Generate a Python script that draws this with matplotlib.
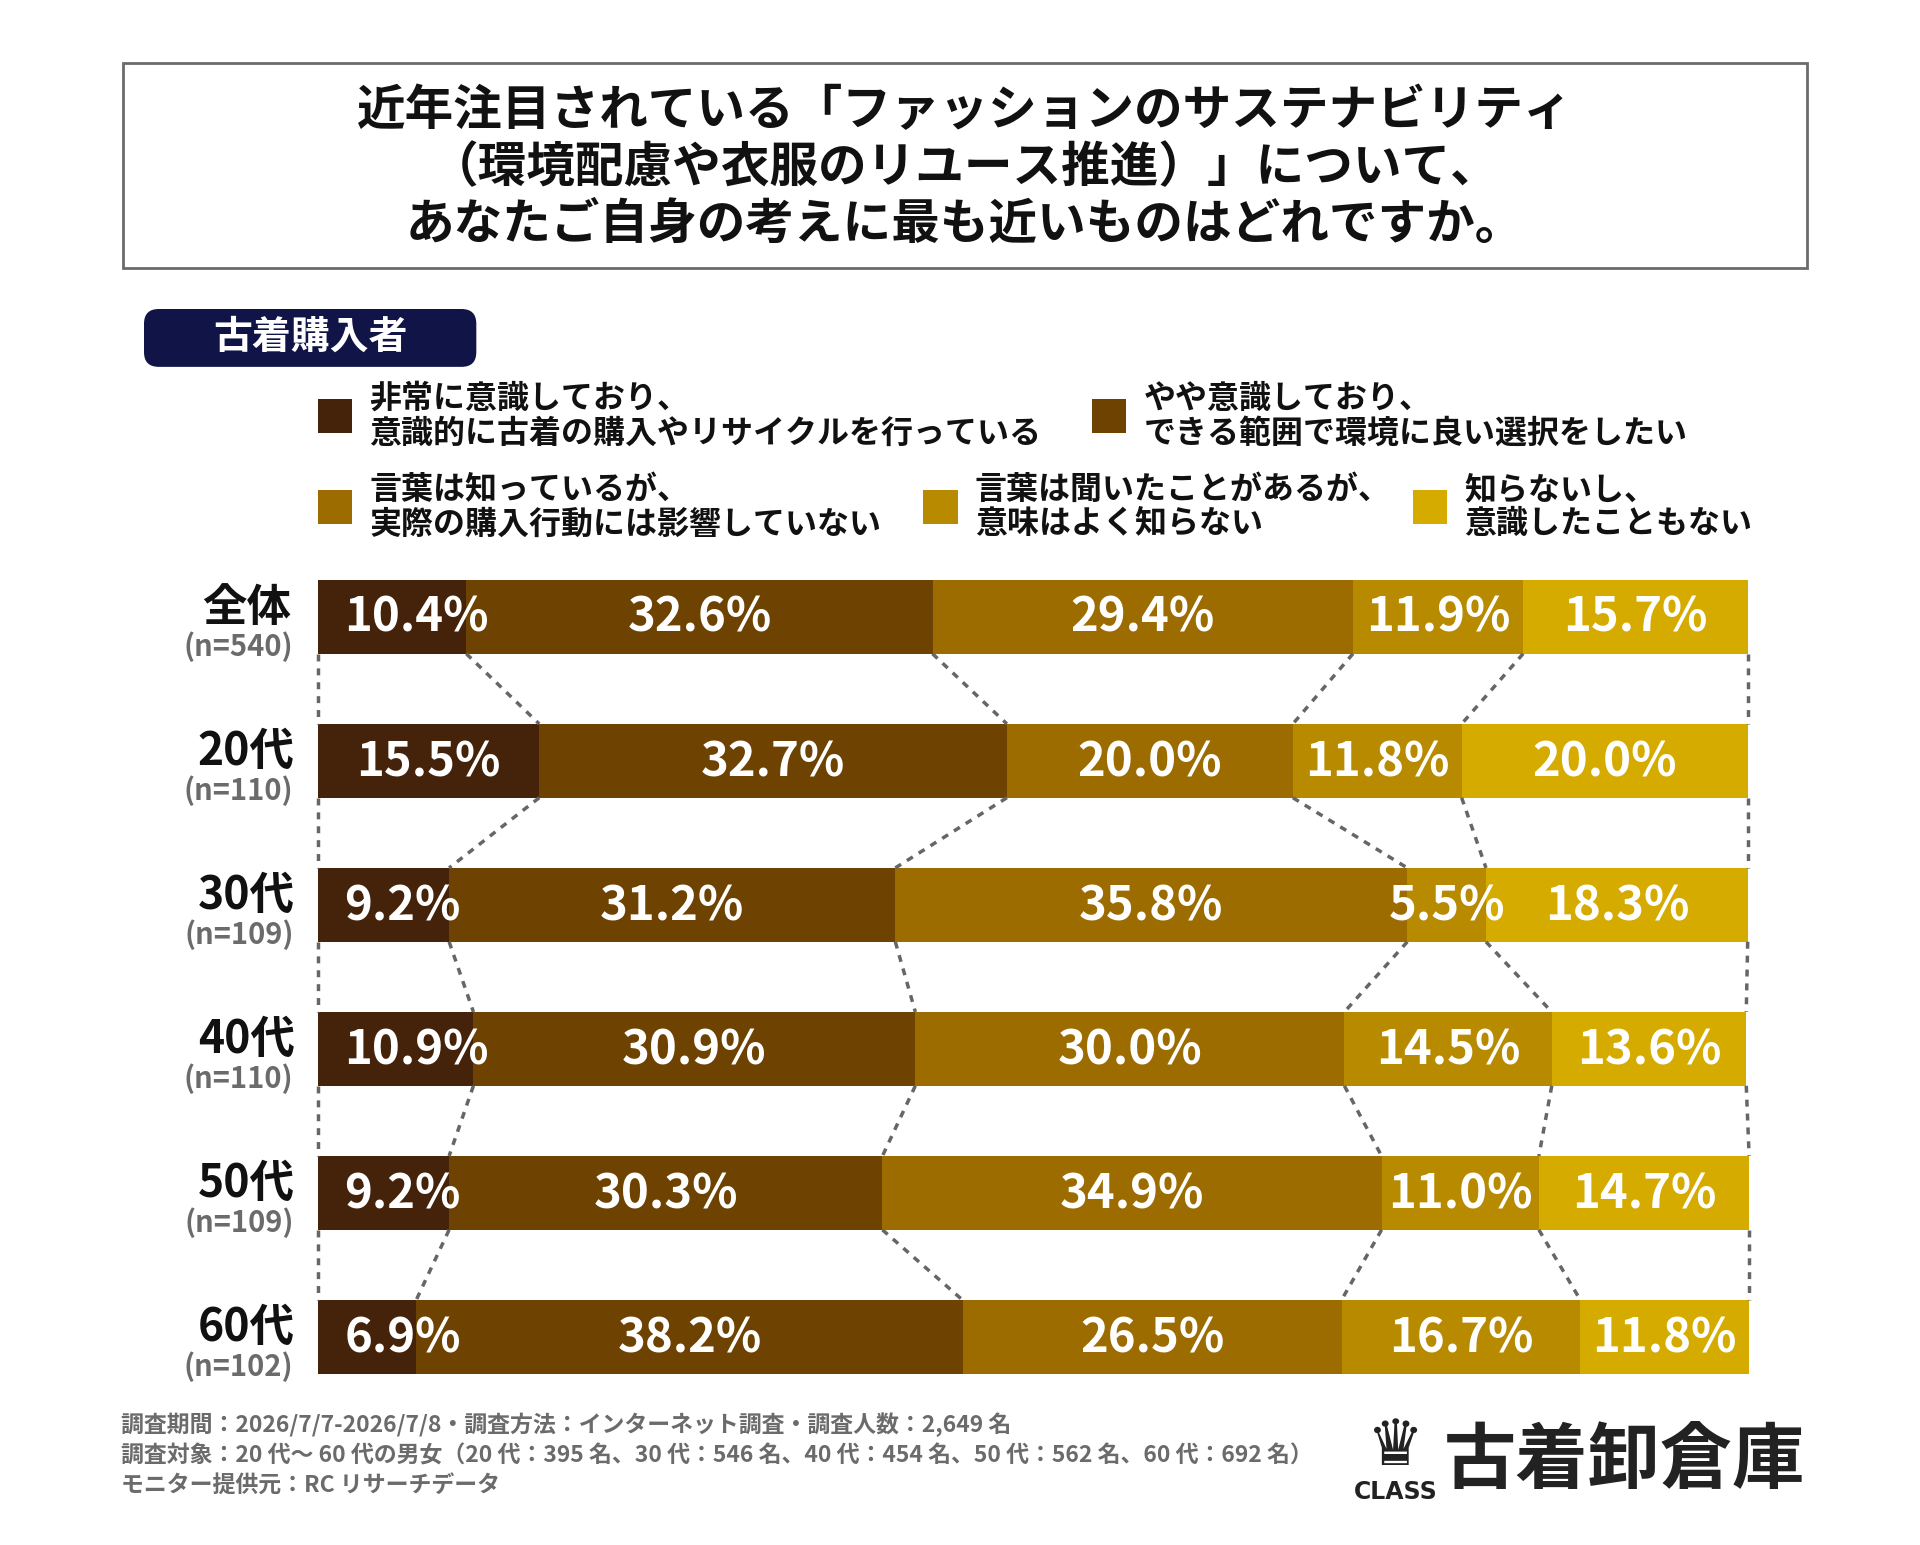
import numpy as np
import matplotlib
matplotlib.use("Agg")
import matplotlib.pyplot as plt
from matplotlib.patches import FancyBboxPatch, Rectangle

plt.rcParams['font.family'] = ['Noto Sans CJK JP', 'DejaVu Sans']
plt.rcParams['font.weight'] = 'bold'

# ------------------------------------------------------------
# Data
# ------------------------------------------------------------
GROUPS = ["全体", "20代", "30代", "40代", "50代", "60代"]
N_LABELS = ["(n=540)", "(n=110)", "(n=109)", "(n=110)", "(n=109)", "(n=102)"]
CATEGORIES = [
    "非常に意識しており、\n意識的に古着の購入やリサイクルを行っている",
    "やや意識しており、\nできる範囲で環境に良い選択をしたい",
    "言葉は知っているが、\n実際の購入行動には影響していない",
    "言葉は聞いたことがあるが、\n意味はよく知らない",
    "知らないし、\n意識したこともない",
]
VALUES = np.array([
    [10.4, 32.6, 29.4, 11.9, 15.7],
    [15.5, 32.7, 20.0, 11.8, 20.0],
    [9.2, 31.2, 35.8, 5.5, 18.3],
    [10.9, 30.9, 30.0, 14.5, 13.6],
    [9.2, 30.3, 34.9, 11.0, 14.7],
    [6.9, 38.2, 26.5, 16.7, 11.8],
])
COLORS = ["#45230a", "#6e4200", "#9d6c00", "#b78a00", "#d6ab00"]

TITLE = ("近年注目されている「ファッションのサステナビリティ\n"
         "（環境配慮や衣服のリユース推進）」について、\n"
         "あなたご自身の考えに最も近いものはどれですか。")
FOOTER = ("調査期間：2026/7/7-2026/7/8・調査方法：インターネット調査・調査人数：2,649 名\n"
          "調査対象：20 代～ 60 代の男女（20 代：395 名、30 代：546 名、40 代：454 名、50 代：562 名、60 代：692 名）\n"
          "モニター提供元：RC リサーチデータ")

# layout in a 1560 x 1255 canvas
W, H = 1560, 1255
X0, X1 = 258, 1420
ROW_Y = [501, 618, 735, 852, 969, 1086]
BAR_H = 60


def main():
    fig = plt.figure(figsize=(19.2, 15.45), dpi=100)
    ax = fig.add_axes([0, 0, 1, 1])
    ax.set_xlim(0, W)
    ax.set_ylim(H, 0)
    ax.axis("off")

    # title box
    ax.add_patch(Rectangle((100, 51), 1368, 167, fill=False, edgecolor="#6b6b6b", linewidth=2))
    ax.text(784, 136, TITLE, ha="center", va="center", fontsize=35, linespacing=1.2, color="#111111")

    # badge
    ax.add_patch(FancyBboxPatch((117, 251), 270, 47, boxstyle="round,pad=0,rounding_size=12",
                                facecolor="#101446", edgecolor="none"))
    ax.text(252, 274, "古着購入者", ha="center", va="center", fontsize=28, color="white")

    # legend
    leg_pos = [(258, 338), (887, 338), (258, 412), (750, 412), (1148, 412)]
    for (lx, ly), label, color in zip(leg_pos, CATEGORIES, COLORS):
        ax.add_patch(Rectangle((lx, ly - 14), 28, 28, facecolor=color, edgecolor="none"))
        ax.text(lx + 42, ly, label, ha="left", va="center", fontsize=23, linespacing=1.1, color="#111111")

    scale = (X1 - X0) / 100.0
    bounds = []
    for i, row in enumerate(VALUES):
        y = ROW_Y[i]
        lefts = X0 + np.concatenate([[0], np.cumsum(row)[:-1]]) * scale
        widths = row * scale
        ax.barh(y, widths, left=lefts, height=BAR_H, color=COLORS, edgecolor="none")
        for j, (l, w, v) in enumerate(zip(lefts, widths, row)):
            if j == 0 and w < 140:
                # narrow first segment: label starts near the bar's left edge
                ax.text(X0 + 22, y + 1, f"{v:.1f}%", ha="left", va="center",
                        fontsize=34, color="white")
            else:
                ax.text(l + w / 2, y + 1, f"{v:.1f}%", ha="center", va="center",
                        fontsize=34, color="white")
        b = np.concatenate([[X0], X0 + np.cumsum(row) * scale])
        bounds.append(b)
        ax.text(200, y - 7, GROUPS[i], ha="center", va="center", fontsize=32, color="#111111")
        ax.text(194, y + 24, N_LABELS[i], ha="center", va="center", fontsize=21, color="#6b6b6b")

    # dashed connectors
    for i in range(len(VALUES) - 1):
        top = ROW_Y[i] + BAR_H / 2
        bot = ROW_Y[i + 1] - BAR_H / 2
        for xa, xb in zip(bounds[i], bounds[i + 1]):
            ax.plot([xa, xb], [top, bot], linestyle=(0, (2, 2)), color="#666666", linewidth=2.5)

    # footer
    ax.text(98, 1182, FOOTER, ha="left", va="center", fontsize=16.5, linespacing=1.4, color="#6b6b6b")
    ax.text(1134, 1175, "♛", ha="center", va="center", fontsize=46, color="#222222",
            family=["DejaVu Sans"])
    ax.text(1134, 1212, "CLASS", ha="center", va="center", fontsize=17, color="#222222",
            family=["DejaVu Sans"])
    ax.text(1320, 1187, "古着卸倉庫", ha="center", va="center", fontsize=52, color="#222222")

    fig.savefig("out.png", dpi=100)


if __name__ == "__main__":
    main()
